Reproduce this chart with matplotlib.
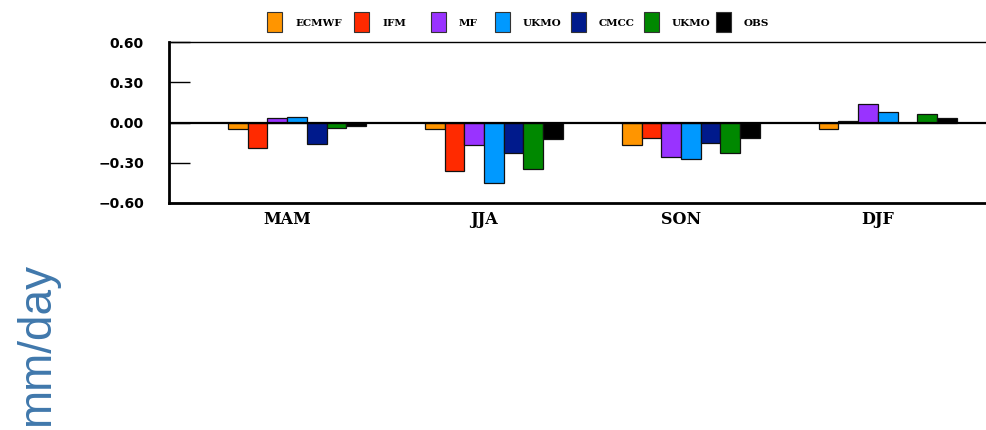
import matplotlib
matplotlib.use("Agg")
import matplotlib.pyplot as plt
import numpy as np

# seasonal precipitation bias, mm/day
seasons = ["MAM", "JJA", "SON", "DJF"]
models = ["ECMWF", "IFM", "MF", "UKMO", "CMCC", "UKMO", "OBS"]
colors = ["#FF9500", "#FF2A00", "#9933FF", "#0099FF", "#001A8C", "#008800", "#000000"]

ecmwf = [-0.045, -0.045, -0.17, -0.045]
ifm = [-0.19, -0.36, -0.115, 0.01]
mf = [0.035, -0.17, -0.26, 0.14]
ukmo = [0.042, -0.45, -0.27, 0.08]
cmcc = [-0.16, -0.23, -0.15, -0.003]
ukmo2 = [-0.04, -0.35, -0.225, 0.065]
obs = [-0.028, -0.12, -0.115, 0.03]
series = [ecmwf, ifm, mf, ukmo, cmcc, ukmo2, obs]

yticks = [-0.6, -0.3, 0.0, 0.3, 0.6]
ytick_labels = ["\u22120.60", "\u22120.30", "0.00", "0.30", "0.60"]

W, H = 987, 430
fig = plt.figure(figsize=(W / 100, H / 100), dpi=100)
ax = fig.add_axes([169 / W, (H - 203) / H, (996 - 169) / W, (203 - 42) / H])

x = np.arange(len(seasons))
width = 0.1
for k, (vals, c) in enumerate(zip(series, colors)):
    ax.bar(x + (k - 3) * width, vals, width, align="edge", color=c,
           edgecolor="#111111", linewidth=0.9, zorder=3)

ax.axhline(0, color="black", lw=1.6, zorder=4)
ax.set_xlim(-0.6, 3.6)
ax.set_ylim(-0.6, 0.6)

ax.set_yticks(yticks)
ax.set_yticklabels(ytick_labels, fontsize=10, fontweight="bold",
                   family="DejaVu Sans")
ax.tick_params(axis="y", direction="in", length=15, width=1, pad=18)
ax.set_xticks(x)
ax.set_xticklabels(seasons, fontsize=11.5, fontweight="bold",
                   family="DejaVu Serif")
ax.tick_params(axis="x", length=0, pad=6)

ax.spines["left"].set_linewidth(2)
ax.spines["bottom"].set_linewidth(2)
ax.spines["top"].set_linewidth(1)
ax.spines["right"].set_visible(False)

# legend row across the top
box_x = [267, 354, 431, 495, 571, 644, 716]
for bx, name, c in zip(box_x, models, colors):
    fig.patches.append(plt.Rectangle((bx / W, (H - 32) / H), 15 / W, 20 / H,
                                     transform=fig.transFigure, facecolor=c,
                                     edgecolor="#333333", linewidth=0.8))
    fig.text((bx + 28) / W, (H - 23) / H, name, fontsize=7.5, fontweight="bold",
             family="DejaVu Serif", va="center", ha="left")

fig.text(37 / W, (H - 344) / H, "mm/day", rotation=90, fontsize=33,
         color="#4078AC", ha="center", va="center", family="Liberation Sans")

fig.savefig("out.png", dpi=100)
